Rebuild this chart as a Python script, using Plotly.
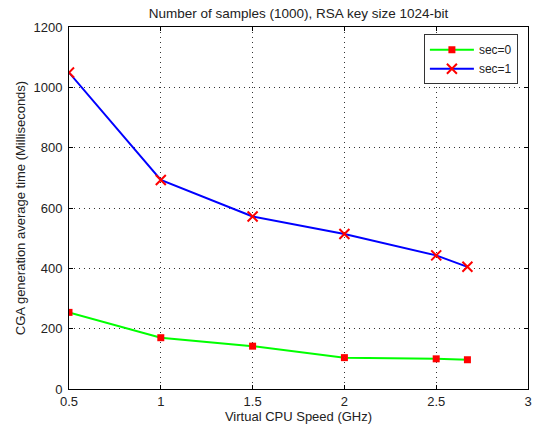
import plotly.graph_objects as go

cpu_speed = [0.5, 1.0, 1.5, 2.0, 2.5, 2.67]
sec0_times = [254, 170, 142, 104, 100, 97]
sec1_times = [1049, 693, 572, 514, 443, 405]
x_ticks = [0.5, 1, 1.5, 2, 2.5, 3]
x_tick_text = ["0.5", "1", "1.5", "2", "2.5", "3"]
y_ticks = [0, 200, 400, 600, 800, 1000, 1200]

fig = go.Figure()
fig.add_trace(go.Scatter(
    x=cpu_speed, y=sec0_times, mode="lines+markers", name="sec=0",
    line=dict(color="#00ff00", width=2),
    marker=dict(symbol="square", color="#ff0000", size=7),
))
fig.add_trace(go.Scatter(
    x=cpu_speed, y=sec1_times, mode="lines+markers", name="sec=1",
    line=dict(color="#0000ff", width=2),
    marker=dict(symbol="x-thin", color="#ff0000", size=10,
                line=dict(color="#ff0000", width=2)),
))

font_family = "Liberation Sans, Arial, sans-serif"
axis_common = dict(
    showline=True, linecolor="black", linewidth=1, mirror="ticks",
    ticks="inside", ticklen=4, tickcolor="black",
    showgrid=True, gridcolor="#333", griddash="1px,4px", gridwidth=1,
    zeroline=False, automargin=False,
    tickfont=dict(size=13, color="#222", family=font_family),
)
fig.update_layout(
    width=540, height=432,
    margin=dict(l=69, r=12, t=27, b=43),
    paper_bgcolor="white", plot_bgcolor="white",
    font=dict(family=font_family, size=13, color="#222"),
    title=dict(text="Number of samples (1000), RSA key size 1024-bit",
               x=0.5, xanchor="center", xref="paper", y=1 - 13 / 432,
               yanchor="middle", yref="container",
               font=dict(size=13.5)),
    xaxis=dict(range=[0.5, 3], tickvals=x_ticks, ticktext=x_tick_text,
               ticklabelstandoff=0,
               title=dict(text="Virtual CPU Speed (GHz)", standoff=2, font=dict(size=13)),
               **axis_common),
    yaxis=dict(range=[0, 1200], tickvals=y_ticks, ticklabelstandoff=3,
               title=dict(text="CGA generation average time (Milliseconds)", standoff=4,
                          font=dict(size=13)),
               **axis_common),
    legend=dict(x=0.978, y=0.98, xanchor="right", yanchor="top",
                bgcolor="white", bordercolor="#333", borderwidth=1,
                font=dict(size=12), itemwidth=44, tracegroupgap=0),
    showlegend=True,
)
fig.write_html(
    "out.html",
    config={"displayModeBar": False},
    post_script="document.body.style.margin='0';document.body.style.overflow='hidden';",
)
